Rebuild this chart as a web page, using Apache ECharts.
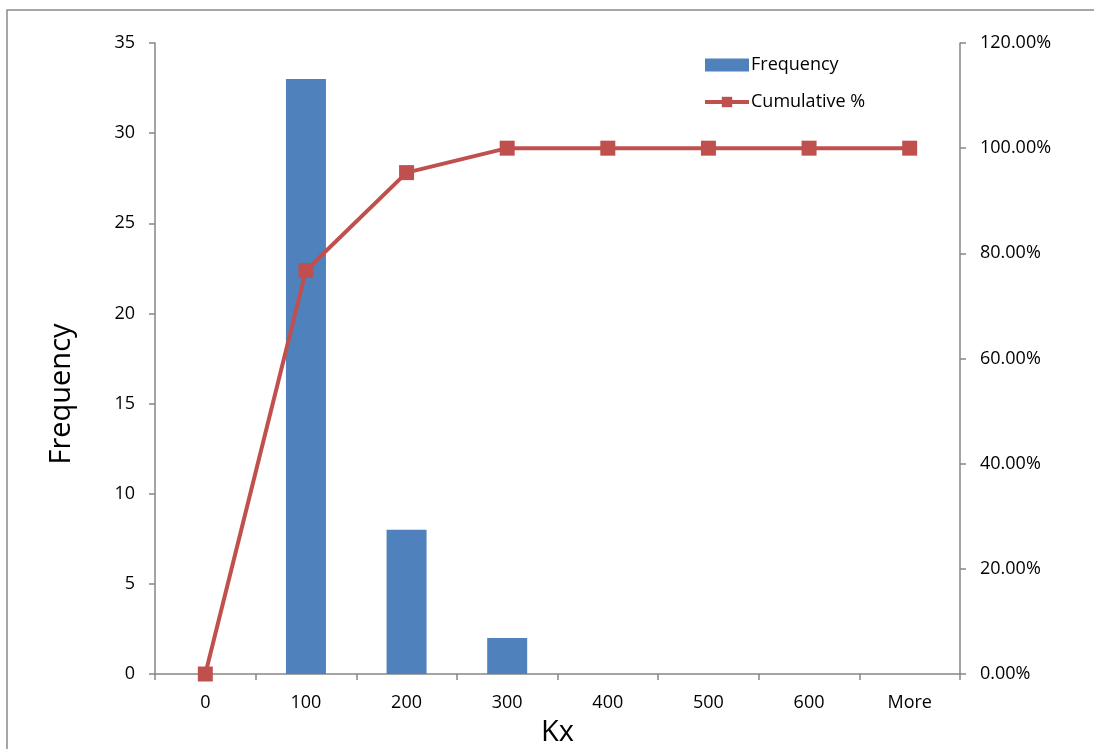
<!DOCTYPE html>
<html><head><meta charset="utf-8">
<script src="https://cdn.jsdelivr.net/npm/echarts@6/dist/echarts.min.js"></script>
<style>html,body{margin:0;padding:0;background:#fff}#c{width:1094px;height:749px}</style>
</head><body><div id="c"></div>
<script>
const categories = ['0','100','200','300','400','500','600','More'];
const frequency = [0,33,8,2,0,0,0,0];
const cumulative = [0,76.74,95.35,100,100,100,100,100];
const leftTicks = [0,5,10,15,20,25,30,35];
const rightTicks = [0,20,40,60,80,100,120];

const chart = echarts.init(document.getElementById('c'));
const font = 'Open Sans';
const axisLineStyle = {color:'#868686', width:1.5};
chart.setOption({
  animation:false,
  textStyle:{fontFamily:font},
  graphic:[
    {type:'rect', shape:{x:7,y:10,width:1200,height:800}, style:{fill:'none',stroke:'#8a8a8a',lineWidth:1.5}, silent:true},
    {type:'text', x:62, y:394, rotation:Math.PI/2, style:{text:'Frequency', font:'29px "Open Sans"', fill:'#000', align:'center', verticalAlign:'middle'}}
  ],
  legend:{
    orient:'vertical', left:698, top:51, itemGap:19, itemWidth:44, itemHeight:13,
    textStyle:{fontSize:18, color:'#000', fontFamily:font, padding:[0,0,0,-3]},
    data:[{name:'Frequency', icon:'rect'},{name:'Cumulative %', lineStyle:{width:4}}]
  },
  grid:{left:155, right:134, top:43, bottom:75, outerBoundsMode:'none', containLabel:false},
  xAxis:{
    type:'category', data:categories, boundaryGap:true,
    name:'Kx', nameLocation:'middle', nameGap:44,
    nameTextStyle:{fontSize:29, color:'#000', fontFamily:font},
    axisLine:{lineStyle:axisLineStyle},
    axisTick:{show:true, length:6, alignWithLabel:false, lineStyle:axisLineStyle},
    axisLabel:{fontSize:18, color:'#000', margin:20, fontFamily:font}
  },
  yAxis:[
    {type:'value', min:0, max:35, interval:5, position:'left',
     axisLine:{show:true, lineStyle:axisLineStyle},
     axisTick:{show:true, length:6, lineStyle:axisLineStyle},
     axisLabel:{fontSize:18, color:'#000', margin:20, fontFamily:font,
       formatter:v=>leftTicks.includes(v)?String(v):''},
     splitLine:{show:false}},
    {type:'value', min:0, max:120, interval:20, position:'right',
     axisLine:{show:true, lineStyle:axisLineStyle},
     axisTick:{show:true, length:6, lineStyle:axisLineStyle},
     axisLabel:{fontSize:18, color:'#000', margin:20, fontFamily:font,
       formatter:v=>rightTicks.includes(v)?v.toFixed(2)+'%':''},
     splitLine:{show:false}}
  ],
  series:[
    {name:'Frequency', type:'bar', data:frequency, barWidth:40, yAxisIndex:0,
     itemStyle:{color:'#4F81BD'}},
    {name:'Cumulative %', type:'line', data:cumulative, yAxisIndex:1,
     symbol:'rect', symbolSize:15, lineStyle:{color:'#C0504D', width:4},
     itemStyle:{color:'#C0504D'}, z:5}
  ]
});
</script></body></html>
